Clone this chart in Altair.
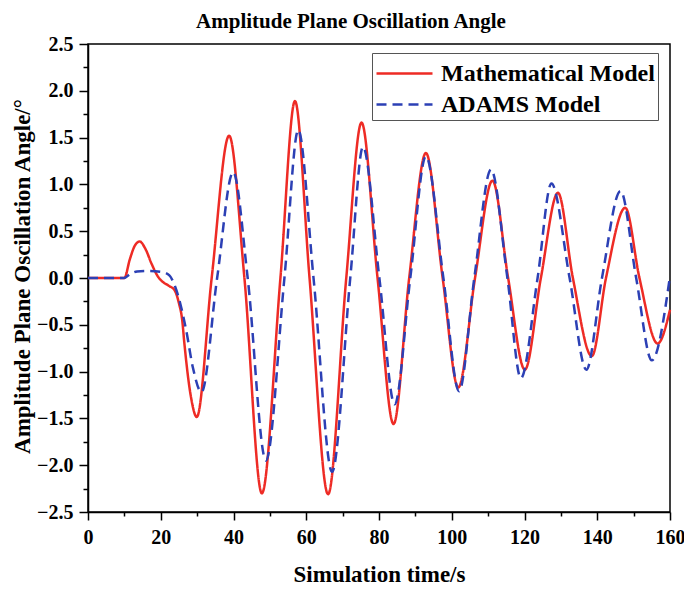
import altair as alt
import pandas as pd

# Mathematical Model (red, solid)
math_t = [0, 10, 11.5, 12.8, 14.2, 15.8, 17.5, 19.5, 20.5, 22.3, 23.8, 25.0, 25.9, 26.5, 28.3,
          29.9, 34.0, 38.8, 43.0, 47.8, 52.9, 56.9, 60.9, 66.0, 71.0, 75.2, 79.6, 84.0, 88.3,
          92.9, 97.5, 101.8, 106.4, 111.2, 115.5, 120.1, 124.5, 129.2, 133.3, 138.5, 142.4,
          147.7, 151.6, 156.6, 160]
math_v = [0, 0, 0.20, 0.34, 0.39, 0.31, 0.15, 0.0, -0.04, -0.085, -0.13, -0.27, -0.45, -0.70, -1.27,
          -1.485, 0.0, 1.52, 0.0, -2.30, 0.0, 1.89, 0.0, -2.31, 0.0, 1.66, 0.0, -1.56, 0.0,
          1.335, 0.0, -1.17, 0.0, 1.04, 0.0, -0.98, 0.0, 0.91, 0.0, -0.835, 0.0,
          0.75, 0.0, -0.70, -0.34]

# ADAMS Model (blue, dashed)
adams_t = [0, 10, 11.5, 13.5, 16.4, 20.3, 22.3, 24.3, 25.6, 27.0, 28.8,
           31.2, 35.5, 39.9, 43.9, 48.9, 54.0, 57.8, 62.0, 67.1, 72.1, 75.6, 80.1, 84.3, 88.6,
           92.9, 97.7, 102.0, 106.2, 110.8, 115.3, 119.0, 123.6, 127.4, 132.4, 137.0, 141.3,
           146.4, 150.7, 155.0, 160]
adams_v = [0, 0, 0.04, 0.07, 0.075, 0.065, 0.03, -0.13, -0.31, -0.56, -0.95,
           -1.22, 0.0, 1.13, 0.0, -1.95, 0.0, 1.58, 0.0, -2.07, 0.0, 1.40, 0.0, -1.35, 0.0,
           1.30, 0.0, -1.21, 0.0, 1.16, 0.0, -1.07, 0.0, 1.01, 0.0, -0.98, 0.0,
           0.93, 0.0, -0.88, 0.02]

series_names = ["Mathematical Model", "ADAMS Model"]
series_colors = ["#ee2b25", "#2c40b5"]

x_ticks = list(range(0, 161, 10))
y_ticks = [round(-2.5 + 0.25 * i, 2) for i in range(21)]

df = pd.concat([
    pd.DataFrame({"t": math_t, "v": math_v, "series": series_names[0], "order": range(len(math_t))}),
    pd.DataFrame({"t": adams_t, "v": adams_v, "series": series_names[1], "order": range(len(adams_t))}),
])

FONT = "Liberation Serif"
YMAJ = "abs(datum.value*2 - round(datum.value*2)) < 0.01"

chart = alt.Chart(df).mark_line(interpolate="monotone", strokeWidth=2.5).encode(
    x=alt.X("t:Q",
            scale=alt.Scale(domain=[0, 160], nice=False, zero=False),
            axis=alt.Axis(values=x_ticks,
                          labelExpr="datum.value % 20 === 0 ? datum.label : ''",
                          title="Simulation time/s",
                          titleX=291, titleY=62, titleBaseline="middle",
                          tickSize={"condition": {"test": "datum.value % 20 === 0", "value": 8}, "value": 4},
                          labelPadding=7, labelFlush=False)),
    y=alt.Y("v:Q",
            scale=alt.Scale(domain=[-2.5, 2.5], nice=False, zero=False),
            axis=alt.Axis(values=y_ticks,
                          labelExpr=YMAJ + " ? format(datum.value, '.1f') : ''",
                          title="Amplitude Plane Oscillation Angle/°",
                          titleX=-66, titleY=232, titleBaseline="middle", titleAngle=-90,
                          titleFontSize=23,
                          tickSize={"condition": {"test": YMAJ, "value": 9}, "value": 5},
                          labelPadding=6, labelFlush=False)),
    color=alt.Color("series:N",
                    scale=alt.Scale(domain=series_names, range=series_colors),
                    legend=alt.Legend(title=None, orient="none", legendX=284, legendY=9,
                                      symbolType="M-1,0H2.5", symbolSize=1024, symbolStrokeWidth=2.5,
                                      labelFont=FONT, labelFontSize=24, labelFontWeight="bold",
                                      labelColor="black", labelLimit=400,
                                      strokeColor="#555555", padding=3, rowPadding=1,
                                      labelOffset=31)),
    strokeDash=alt.StrokeDash("series:N",
                              scale=alt.Scale(domain=series_names, range=[[1, 0], [10, 6]]),
                              legend=None),
    order="order:Q",
).properties(
    width=582, height=468,
    background="white",
    autosize=alt.AutoSizeParams(type="none"),
    padding={"left": 80, "top": 36, "right": 14, "bottom": 76},
    title=alt.TitleParams("Amplitude Plane Oscillation Angle", anchor="middle", dx=-28,
                          frame="group", baseline="bottom", offset=-19, font=FONT,
                          fontSize=21, fontWeight="bold", color="black"),
).configure_view(
    stroke="black", strokeWidth=1.5
).configure_axis(
    domainColor="black", domainWidth=1.5, tickColor="black", tickWidth=1.5,
    labelFont=FONT, labelFontSize=20, labelFontWeight="bold", labelColor="black",
    titleFont=FONT, titleFontSize=23, titleFontWeight="bold", titleColor="black",
    grid=False,
)

chart.save("out.html", embed_options={"renderer": "svg", "actions": False})
